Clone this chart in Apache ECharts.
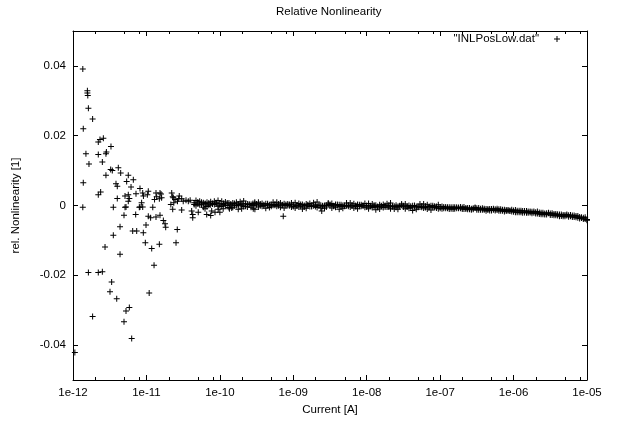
<!DOCTYPE html>
<html>
<head>
<meta charset="utf-8">
<script src="https://cdn.jsdelivr.net/npm/echarts@6/dist/echarts.min.js"></script>
<style>
html, body { margin: 0; padding: 0; background: #fff; }
#chart { width: 617px; height: 421px; }
</style>
</head>
<body>
<div id="chart"></div>
<script>
const titleText = 'Relative Nonlinearity'
const seriesName = '"INLPosLow.dat"'
const xTickLabels = ['1e-12', '1e-11', '1e-10', '1e-09', '1e-08', '1e-07', '1e-06', '1e-05']
const yTicks = [-0.04, -0.02, 0, 0.02, 0.04]
const minorSteps = [2, 5, 8]

// scattered points at low current [current, rel. nonlinearity]
const lowPoints = [
    [1.06e-12, -0.0421], [1.36e-12, 0.0391], [1.36e-12, -0.0005], [1.38e-12, 0.0220],
    [1.38e-12, 0.0065], [1.50e-12, 0.0148], [1.57e-12, 0.0329], [1.57e-12, 0.0322],
    [1.59e-12, 0.0315], [1.62e-12, 0.0279], [1.62e-12, -0.0192], [1.65e-12, 0.0119],
    [1.85e-12, 0.0248], [1.85e-12, -0.0318], [2.21e-12, 0.0182], [2.21e-12, 0.0146],
    [2.21e-12, 0.0031], [2.21e-12, -0.0192], [2.33e-12, 0.0189], [2.38e-12, 0.0039],
    [2.51e-12, 0.0125], [2.51e-12, -0.0190], [2.59e-12, 0.0193], [2.73e-12, -0.0119],
    [2.81e-12, 0.0148], [2.85e-12, 0.0153], [2.81e-12, 0.0087], [3.19e-12, -0.0247],
    [3.26e-12, 0.0103], [3.29e-12, 0.0169], [3.36e-12, -0.0219], [3.43e-12, 0.0100],
    [3.54e-12, -0.0005], [3.54e-12, -0.0085], [3.85e-12, 0.0062], [3.94e-12, -0.0267],
    [4.01e-12, 0.0055], [4.01e-12, 0.0020], [4.14e-12, 0.0108], [4.37e-12, -0.0061],
    [4.37e-12, -0.0140], [4.46e-12, 0.0093], [4.95e-12, -0.0028], [4.95e-12, -0.0333],
    [5.11e-12, -0.0005], [5.11e-12, 0.0027], [5.27e-12, -0.0004], [5.27e-12, -0.0302],
    [5.38e-12, 0.0069], [5.66e-12, 0.0087], [5.66e-12, 0.0031], [5.66e-12, 0.0012],
    [5.85e-12, 0.0020], [5.85e-12, -0.0292], [6.17e-12, 0.0053], [6.3e-12, -0.0381],
    [6.5e-12, -0.0073], [6.63e-12, 0.0074], [7.14e-12, -0.0026], [7.21e-12, 0.0034],
    [7.37e-12, -0.0073], [8.0e-12, -0.0005], [8.17e-12, 0.0049], [8.17e-12, -0.0004],
    [8.6e-12, 0.0008], [8.9e-12, 0.0036], [8.9e-12, -0.0004], [9.1e-12, 0.0027],
    [9.07e-12, -0.0078], [9.66e-12, -0.0107], [9.87e-12, -0.0056], [1.03e-11, 0.0031],
    [1.06e-11, 0.0041], [1.06e-11, -0.0031], [1.09e-11, -0.0251], [1.14e-11, -0.0035],
    [1.18e-11, -0.0123], [1.22e-11, -0.0005], [1.27e-11, -0.0171], [1.29e-11, 0.0017],
    [1.35e-11, 0.0036], [1.35e-11, -0.0033], [1.38e-11, 0.0025], [1.50e-11, 0.0019],
    [1.50e-11, -0.0111], [1.53e-11, 0.0036], [1.53e-11, -0.0028], [1.58e-11, 0.0033],
    [1.61e-11, 0.0022], [1.70e-11, -0.0043], [1.79e-11, -0.0052], [1.83e-11, -0.0062],
    [2.15e-11, 0.0003], [2.21e-11, 0.0036], [2.28e-11, 0.0025], [2.28e-11, -0.0011],
    [2.32e-11, 0.0022], [2.36e-11, 0.0008], [2.45e-11, 0.0017], [2.53e-11, -0.0107],
    [2.63e-11, -0.0069], [2.65e-11, 0.0012], [2.75e-11, 0.0019], [2.80e-11, 0.0027],
    [3.02e-11, 0.0019], [3.02e-11, -0.0013], [3.17e-11, 0.0012], [3.46e-11, 0.0015],
    [3.72e-11, 0.0012], [3.94e-11, 0.0015], [4.13e-11, -0.0016], [4.27e-11, -0.0026],
    [4.27e-11, -0.0035], [5.08e-11, -0.0019], [6.28e-11, -0.0009], [6.62e-11, -0.0026],
    [7.5e-11, -0.0029], [7.74e-11, -0.0016], [8.59e-11, -0.0019], [9.5e-11, -0.0011],
    [1.0e-10, -0.0019], [1.11e-10, -0.0009], [1.35e-10, -0.0009], [1.45e-10, -0.0007],
    [1.78e-10, -0.0011], [1.98e-10, -0.0009], [2.85e-10, -0.0009], [3.0e-10, -0.0011],
    [7.3e-10, -0.0031], [2.44e-9, -0.0016]
]

// dense band, first set of currents, two readings each
const bandCurrent = [
    4.47e-11, 5.01e-11, 5.62e-11, 6.31e-11, 7.08e-11, 7.94e-11, 8.91e-11,
    1.00e-10, 1.12e-10, 1.26e-10, 1.41e-10, 1.58e-10, 1.78e-10, 2.00e-10, 2.24e-10, 2.51e-10, 2.82e-10,
    3.16e-10, 3.55e-10, 3.98e-10, 4.47e-10, 5.01e-10, 5.62e-10, 6.31e-10, 7.08e-10, 7.94e-10, 8.91e-10,
    1.00e-9, 1.12e-9, 1.26e-9, 1.41e-9, 1.58e-9, 1.78e-9, 2.00e-9, 2.24e-9, 2.51e-9, 2.82e-9,
    3.16e-9, 3.55e-9, 3.98e-9, 4.47e-9, 5.01e-9, 5.62e-9, 6.31e-9, 7.08e-9, 7.94e-9, 8.91e-9,
    1.00e-8, 1.12e-8, 1.26e-8, 1.41e-8, 1.58e-8, 1.78e-8, 2.00e-8, 2.24e-8, 2.51e-8, 2.82e-8,
    3.16e-8, 3.55e-8, 3.98e-8, 4.47e-8, 5.01e-8, 5.62e-8, 6.31e-8, 7.08e-8, 7.94e-8, 8.91e-8,
    1.00e-7, 1.12e-7, 1.26e-7, 1.41e-7, 1.58e-7, 1.78e-7, 2.00e-7, 2.24e-7, 2.51e-7, 2.82e-7,
    3.16e-7, 3.55e-7, 3.98e-7, 4.47e-7, 5.01e-7, 5.62e-7, 6.31e-7, 7.08e-7, 7.94e-7, 8.91e-7,
    1.00e-6, 1.12e-6, 1.26e-6, 1.41e-6, 1.58e-6, 1.78e-6, 2.00e-6, 2.24e-6, 2.51e-6, 2.82e-6,
    3.16e-6, 3.55e-6, 3.98e-6, 4.47e-6, 5.01e-6, 5.62e-6, 6.31e-6, 7.08e-6, 7.94e-6, 8.91e-6,
    1.00e-5
]
const bandInlA = [
    0.0008, 0.0005, 0.0009, 0.0004, 0.0007, 0.0006, 0.0005,
    0.0005, 0.0003, 0.0007, 0.0002, 0.0006, 0.0004, 0.0001, 0.0005, 0.0003, 0.0006,
    0.0002, 0.0004, 0.0000, 0.0005, 0.0003, 0.0001, 0.0004, 0.0002, 0.0000, 0.0003,
    0.0002, -0.0001, 0.0003, 0.0000, 0.0001, -0.0003, 0.0002, 0.0000, -0.0002, 0.0001,
    0.0003, -0.0001, 0.0000, 0.0002, -0.0002, 0.0001, -0.0001, 0.0000, 0.0002, -0.0001,
    0.0000, -0.0002, 0.0001, -0.0003, -0.0001, 0.0000, -0.0004, -0.0002, 0.0001, -0.0003,
    -0.0001, -0.0004, -0.0002, 0.0000, -0.0003, -0.0005, -0.0002, -0.0004, -0.0001, -0.0003,
    -0.0004, -0.0008, -0.0005, -0.0009, -0.0005, -0.0008, -0.0006, -0.0010, -0.0007, -0.0011,
    -0.0008, -0.0012, -0.0009, -0.0013, -0.0010, -0.0014, -0.0011, -0.0015, -0.0013, -0.0016,
    -0.0014, -0.0019, -0.0015, -0.0020, -0.0017, -0.0022, -0.0019, -0.0024, -0.0021, -0.0026,
    -0.0023, -0.0028, -0.0025, -0.0030, -0.0027, -0.0032, -0.0029, -0.0034, -0.0033, -0.0039,
    -0.0040
]
const bandInlB = [
    0.0003, 0.0010, 0.0002, 0.0006, 0.0001, 0.0004, 0.0008,
    0.0001, 0.0006, 0.0000, 0.0004, -0.0001, 0.0002, 0.0005, -0.0002, 0.0003, 0.0000,
    0.0004, -0.0001, 0.0002, 0.0001, -0.0002, 0.0003, -0.0001, 0.0001, 0.0003, -0.0001,
    -0.0003, 0.0001, -0.0002, -0.0004, 0.0002, -0.0001, -0.0003, 0.0001, -0.0001, -0.0004,
    0.0000, -0.0002, 0.0003, -0.0003, 0.0000, -0.0002, 0.0001, -0.0003, -0.0002, 0.0000,
    -0.0004, -0.0001, -0.0003, -0.0005, -0.0002, -0.0004, 0.0000, -0.0003, -0.0005, -0.0001,
    -0.0004, -0.0002, -0.0006, -0.0003, -0.0005, -0.0002, -0.0006, -0.0003, -0.0005, -0.0007,
    -0.0008, -0.0004, -0.0008, -0.0005, -0.0009, -0.0006, -0.0010, -0.0007, -0.0011, -0.0008,
    -0.0012, -0.0009, -0.0012, -0.0010, -0.0014, -0.0011, -0.0015, -0.0012, -0.0016, -0.0014,
    -0.0018, -0.0015, -0.0019, -0.0016, -0.0021, -0.0018, -0.0023, -0.0020, -0.0025, -0.0022,
    -0.0027, -0.0024, -0.0029, -0.0026, -0.0031, -0.0028, -0.0033, -0.0030, -0.0037, -0.0035,
    -0.0042
]

// dense band, second set of currents (between the first), two readings each
const bandCurrent2 = [
    4.73e-11, 5.31e-11, 5.96e-11, 6.68e-11, 7.50e-11, 8.41e-11, 9.44e-11,
    1.06e-10, 1.19e-10, 1.33e-10, 1.50e-10, 1.68e-10, 1.89e-10, 2.11e-10, 2.37e-10, 2.66e-10, 2.99e-10,
    3.35e-10, 3.76e-10, 4.22e-10, 4.73e-10, 5.31e-10, 5.96e-10, 6.68e-10, 7.50e-10, 8.41e-10, 9.44e-10,
    1.06e-9, 1.19e-9, 1.33e-9, 1.50e-9, 1.68e-9, 1.89e-9, 2.11e-9, 2.37e-9, 2.66e-9, 2.99e-9,
    3.35e-9, 3.76e-9, 4.22e-9, 4.73e-9, 5.31e-9, 5.96e-9, 6.68e-9, 7.50e-9, 8.41e-9, 9.44e-9,
    1.06e-8, 1.19e-8, 1.33e-8, 1.50e-8, 1.68e-8, 1.89e-8, 2.11e-8, 2.37e-8, 2.66e-8, 2.99e-8,
    3.35e-8, 3.76e-8, 4.22e-8, 4.73e-8, 5.31e-8, 5.96e-8, 6.68e-8, 7.50e-8, 8.41e-8, 9.44e-8,
    1.06e-7, 1.19e-7, 1.33e-7, 1.50e-7, 1.68e-7, 1.89e-7, 2.11e-7, 2.37e-7, 2.66e-7, 2.99e-7,
    3.35e-7, 3.76e-7, 4.22e-7, 4.73e-7, 5.31e-7, 5.96e-7, 6.68e-7, 7.50e-7, 8.41e-7, 9.44e-7,
    1.06e-6, 1.19e-6, 1.33e-6, 1.50e-6, 1.68e-6, 1.89e-6, 2.11e-6, 2.37e-6, 2.66e-6, 2.99e-6,
    3.35e-6, 3.76e-6, 4.22e-6, 4.73e-6, 5.31e-6, 5.96e-6, 6.68e-6, 7.50e-6, 8.41e-6, 9.44e-6
]
const bandInlC = [
    0.0014, 0.0002, 0.0008, -0.0003, 0.0011, 0.0003, 0.0014,
    0.0012, 0.0000, 0.0007, -0.0005, 0.0009, 0.0002, 0.0013, -0.0004, 0.0003, 0.0009,
    -0.0004, 0.0006, -0.0008, 0.0002, 0.0009, -0.0002, 0.0007, -0.0007, 0.0004, -0.0004,
    0.0008, -0.0004, 0.0003, -0.0008, 0.0006, -0.0001, 0.0010, -0.0007, 0.0000, 0.0007,
    -0.0007, 0.0003, -0.0011, 0.0000, 0.0007, -0.0004, 0.0005, -0.0009, 0.0002, -0.0005,
    0.0006, -0.0006, 0.0001, -0.0010, 0.0003, -0.0004, 0.0007, -0.0010, -0.0003, 0.0004,
    -0.0009, 0.0000, -0.0014, -0.0003, 0.0004, -0.0007, 0.0002, -0.0013, -0.0002, -0.0009,
    -0.0003, -0.0008, -0.0005, -0.0010, -0.0005, -0.0008, -0.0004, -0.0011, -0.0009, -0.0006,
    -0.0012, -0.0008, -0.0015, -0.0010, -0.0009, -0.0013, -0.0011, -0.0017, -0.0013, -0.0017,
    -0.0013, -0.0019, -0.0016, -0.0021, -0.0017, -0.0021, -0.0017, -0.0025, -0.0023, -0.0021,
    -0.0027, -0.0024, -0.0031, -0.0027, -0.0026, -0.0031, -0.0029, -0.0035, -0.0034, -0.0039
]
const bandInlD = [
    -0.0001, 0.0012, -0.0005, 0.0009, 0.0002, 0.0012, -0.0002,
    -0.0003, 0.0010, -0.0006, 0.0007, 0.0000, 0.0011, -0.0003, 0.0004, -0.0005, 0.0006,
    0.0009, -0.0002, 0.0005, -0.0006, 0.0001, 0.0009, -0.0005, 0.0005, 0.0000, 0.0007,
    -0.0007, 0.0006, -0.0010, 0.0004, -0.0003, 0.0008, -0.0006, 0.0001, -0.0008, 0.0004,
    0.0006, -0.0005, 0.0002, -0.0008, -0.0001, 0.0007, -0.0007, 0.0003, -0.0002, 0.0006,
    -0.0009, 0.0004, -0.0012, 0.0002, -0.0006, 0.0005, -0.0009, -0.0002, -0.0011, 0.0001,
    0.0004, -0.0008, -0.0001, -0.0011, -0.0004, 0.0004, -0.0010, -0.0001, -0.0006, 0.0002,
    -0.0009, -0.0004, -0.0010, -0.0005, -0.0008, -0.0004, -0.0010, -0.0007, -0.0012, -0.0007,
    -0.0007, -0.0012, -0.0010, -0.0014, -0.0012, -0.0009, -0.0015, -0.0012, -0.0015, -0.0012,
    -0.0019, -0.0015, -0.0021, -0.0016, -0.0020, -0.0017, -0.0023, -0.0021, -0.0026, -0.0022,
    -0.0022, -0.0028, -0.0026, -0.0031, -0.0029, -0.0027, -0.0033, -0.0030, -0.0036, -0.0034
]

const font = 'Liberation Sans, Arial, sans-serif'
const fontSize = 11.5
const plus = 'path://M0,5h12v2h-12z M5,0h2v12h-2z'

function getDatas() {
    const datas = lowPoints.slice()
    for (let i = 0; i < bandCurrent.length; i++) {
        datas.push([bandCurrent[i], bandInlA[i]])
        datas.push([bandCurrent[i], bandInlB[i]])
    }
    for (let i = 0; i < bandCurrent2.length; i++) {
        datas.push([bandCurrent2[i], bandInlC[i]])
        datas.push([bandCurrent2[i], bandInlD[i]])
    }
    return datas
}

function getMinorTicks() {
    const ticks = []
    for (let e = -12; e < -5; e++) {
        minorSteps.forEach(m => ticks.push([m * Math.pow(10, e)]))
    }
    return ticks
}

function xAxisOf(position, showLabel) {
    return {
        type: 'log',
        logBase: 10,
        position: position,
        min: 1e-12,
        max: 1e-5,
        splitNumber: 7,
        name: showLabel ? 'Current [A]' : '',
        nameLocation: 'middle',
        nameGap: 24,
        nameTextStyle: { color: '#000', fontSize: fontSize, fontFamily: font },
        axisLine: { show: true, onZero: false, lineStyle: { color: '#000', width: 1 } },
        axisTick: { show: true, inside: true, length: 5, lineStyle: { color: '#000' } },
        axisLabel: {
            show: showLabel,
            margin: 7,
            color: '#000',
            fontSize: fontSize,
            fontFamily: font,
            formatter: v => xTickLabels[Math.round(Math.log10(v)) + 12]
        },
        splitLine: { show: false },
        minorTick: { show: false }
    }
}

function yAxisOf(position, showLabel) {
    return {
        type: 'value',
        position: position,
        min: -0.05,
        max: 0.05,
        name: showLabel ? 'rel. Nonlinearity [1]' : '',
        nameLocation: 'middle',
        nameGap: 51,
        nameTextStyle: { color: '#000', fontSize: fontSize, fontFamily: font },
        axisLine: { show: true, onZero: false, lineStyle: { color: '#000', width: 1 } },
        axisTick: { show: true, inside: true, length: 5, customValues: yTicks, lineStyle: { color: '#000' } },
        axisLabel: {
            show: showLabel,
            customValues: yTicks,
            margin: 7,
            color: '#000',
            fontSize: fontSize,
            fontFamily: font
        },
        splitLine: { show: false }
    }
}

function draw() {
    const chart = echarts.init(document.getElementById('chart'), null, { renderer: 'canvas' })
    chart.setOption({
        animation: false,
        backgroundColor: '#fff',
        title: {
            text: titleText,
            left: 276,
            top: 6,
            padding: 0,
            textStyle: { color: '#000', fontSize: fontSize, fontWeight: 'normal', fontFamily: font }
        },
        legend: {
            data: [{ name: seriesName, icon: plus }],
            right: 57,
            top: 33,
            padding: 0,
            align: 'right',
            itemWidth: 6,
            itemHeight: 6,
            textStyle: { color: '#000', fontSize: fontSize, fontFamily: font, padding: [0, 10, 0, 0] }
        },
        grid: { left: 73, right: 30, top: 31, bottom: 41, containLabel: false },
        xAxis: [xAxisOf('bottom', true), xAxisOf('top', false)],
        yAxis: [yAxisOf('left', true), yAxisOf('right', false)],
        series: [
            {
                name: seriesName,
                type: 'scatter',
                symbol: plus,
                symbolSize: 6,
                itemStyle: { color: '#000', opacity: 1 },
                data: getDatas()
            },
            {
                type: 'custom',
                silent: true,
                clip: false,
                data: getMinorTicks(),
                encode: { x: 0 },
                renderItem: (params, api) => {
                    const lo = api.coord([api.value(0), -0.05])
                    const hi = api.coord([api.value(0), 0.05])
                    const x = Math.round(lo[0]) + 0.5
                    const style = { stroke: '#000', lineWidth: 1 }
                    return {
                        type: 'group',
                        children: [
                            { type: 'line', shape: { x1: x, y1: lo[1], x2: x, y2: lo[1] - 3 }, style: style },
                            { type: 'line', shape: { x1: x, y1: hi[1], x2: x, y2: hi[1] + 3 }, style: style }
                        ]
                    }
                }
            }
        ]
    })
}

draw()
</script>
</body>
</html>
